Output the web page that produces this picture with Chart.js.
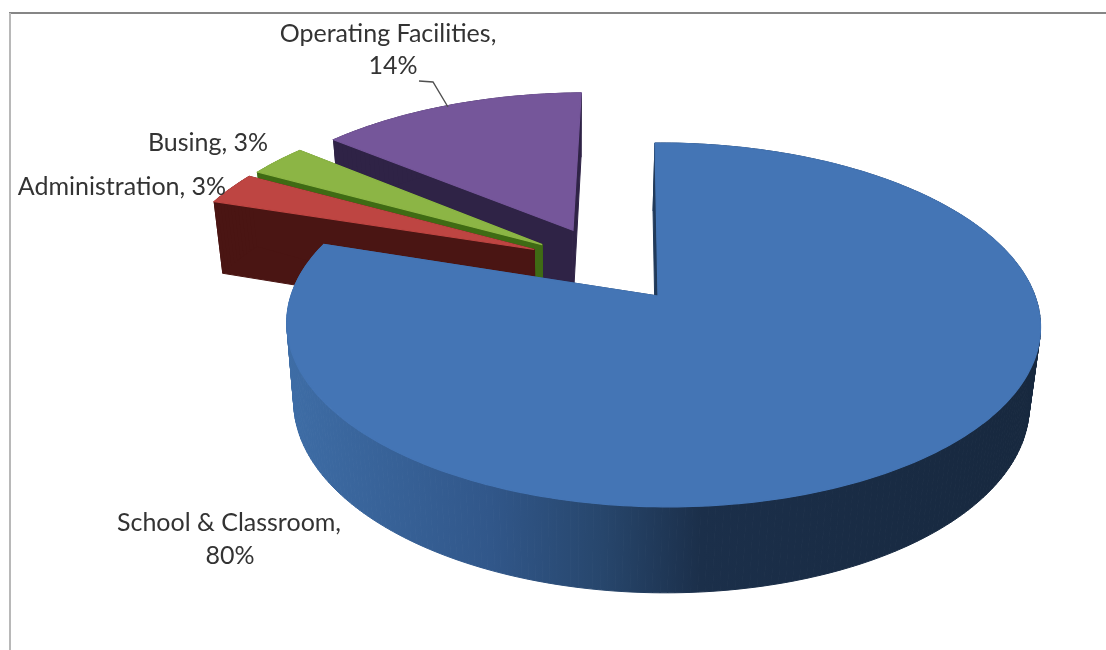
<!DOCTYPE html>
<html>
<head>
<meta charset="utf-8">
<title>Spending by category</title>
<script src="https://cdn.jsdelivr.net/npm/chart.js@4"></script>
<style>
  html, body { margin: 0; padding: 0; background: #fff; }
  canvas { display: block; filter: blur(0.55px); }
</style>
</head>
<body>
<canvas id="pieChart" width="1106" height="650"></canvas>
<script>
// Values
const categories = ["School & Classroom", "Administration", "Busing", "Operating Facilities"];
const percents = [80, 3, 3, 14];

const topColors = ["#4475b5", "#be4542", "#8cb545", "#75569a"];
const sideColors = ["#1a2d47", "#4a1513", "#3f6b14", "#2f2346"];

// Explode of each slice, in pie radii (x, y on the pie plane), and its radius
const explodeX = [0, -0.346, -0.325, -0.24];
const explodeY = [0, -0.275, -0.305, -0.395];
const radii = [1, 1.025, 1.025, 1.01];

// Label layout, one entry per category: x, y, which part of the text
const labelLines = [
  [[229, 523, 0], [230, 556, 1]],
  [[122, 187, 2]],
  [[208, 143, 2]],
  [[388, 34, 0], [393, 66, 1]],
];

// Perspective of the pie plane: (0,0) lands on the tip of the blue slice
const view = { x0: 658, y0: 296, a: 372, b: 177.3, shear: 3.5, k: 0.159, m: 0.0133 };

function project(u, v) {
  const w = 1 - view.k * v - view.m * u;
  return { x: view.x0 + (view.a * u + view.shear * v) / w, y: view.y0 + (view.b * v) / w };
}

// Point on the underside of the pie, straight below a top point
function below(p, v) {
  return { x: 656 + 0.976 * (p.x - view.x0), y: p.y + 77 + 9 * v };
}

function sliceOutline(el, i) {
  const pts = [{ u: explodeX[i], v: explodeY[i] }];
  const steps = Math.ceil(((el.endAngle - el.startAngle) * 180) / Math.PI);
  for (let s = 0; s <= steps; s++) {
    const a = el.startAngle + ((el.endAngle - el.startAngle) * s) / steps;
    pts.push({ u: explodeX[i] + radii[i] * Math.cos(a), v: explodeY[i] + radii[i] * Math.sin(a) });
  }
  return pts;
}

const pie3d = {
  id: "pie3d",
  // replaces the flat arcs with tilted ones, angles still come from the chart
  beforeDatasetsDraw(chart) {
    const ctx = chart.ctx;
    const arcs = chart.getDatasetMeta(0).data;

    const blueSide = ctx.createLinearGradient(286, 0, 1040, 0);
    blueSide.addColorStop(0, "#3e6da6");
    blueSide.addColorStop(0.27, "#31578a");
    blueSide.addColorStop(0.42, "#27466c");
    blueSide.addColorStop(0.55, "#1b2f4a");
    blueSide.addColorStop(1, "#17283e");

    // back to front
    for (let i = arcs.length - 1; i >= 0; i--) {
      const outline = sliceOutline(arcs[i], i);
      const top = outline.map((p) => project(p.u, p.v));
      const under = top.map((p, n) => below(p, outline[n].v));
      const side = i === 0 ? blueSide : sideColors[i];

      ctx.fillStyle = side;
      ctx.strokeStyle = side;
      ctx.lineWidth = 1;
      for (let n = 0; n < top.length; n++) {
        const next = (n + 1) % top.length;
        ctx.beginPath();
        ctx.moveTo(top[n].x, top[n].y);
        ctx.lineTo(top[next].x, top[next].y);
        ctx.lineTo(under[next].x, under[next].y);
        ctx.lineTo(under[n].x, under[n].y);
        ctx.closePath();
        ctx.fill();
        ctx.stroke();
      }

      ctx.fillStyle = topColors[i];
      ctx.strokeStyle = topColors[i];
      ctx.lineWidth = 1.2;
      ctx.beginPath();
      top.forEach((p, n) => (n ? ctx.lineTo(p.x, p.y) : ctx.moveTo(p.x, p.y)));
      ctx.closePath();
      ctx.fill();
      ctx.stroke();
    }
    return false;
  },
  afterDraw(chart) {
    const ctx = chart.ctx;

    // frame, only top and left are in the picture
    ctx.fillStyle = "#868686";
    ctx.fillRect(9, 12, 1097, 2);
    ctx.fillStyle = "#b8b8b8";
    ctx.fillRect(9, 13, 2, 637);

    // leader line of the Operating Facilities label
    ctx.strokeStyle = "#505050";
    ctx.lineWidth = 1.4;
    ctx.beginPath();
    ctx.moveTo(419, 81);
    ctx.lineTo(433, 82);
    ctx.lineTo(448, 107);
    ctx.stroke();

    ctx.font = '25px Lato, "Open Sans", sans-serif';
    ctx.fillStyle = "#333333";
    ctx.textAlign = "center";
    ctx.textBaseline = "middle";
    categories.forEach((name, i) => {
      const parts = [name + ",", percents[i] + "%", name + ", " + percents[i] + "%"];
      labelLines[i].forEach(([x, y, part]) => ctx.fillText(parts[part], x, y));
    });
  },
};

new Chart(document.getElementById("pieChart").getContext("2d"), {
  type: "pie",
  data: {
    labels: categories,
    datasets: [{ data: percents, backgroundColor: topColors, borderWidth: 0 }],
  },
  options: {
    responsive: false,
    animation: false,
    plugins: { legend: { display: false }, tooltip: { enabled: false } },
  },
  plugins: [pie3d],
});
</script>
</body>
</html>
